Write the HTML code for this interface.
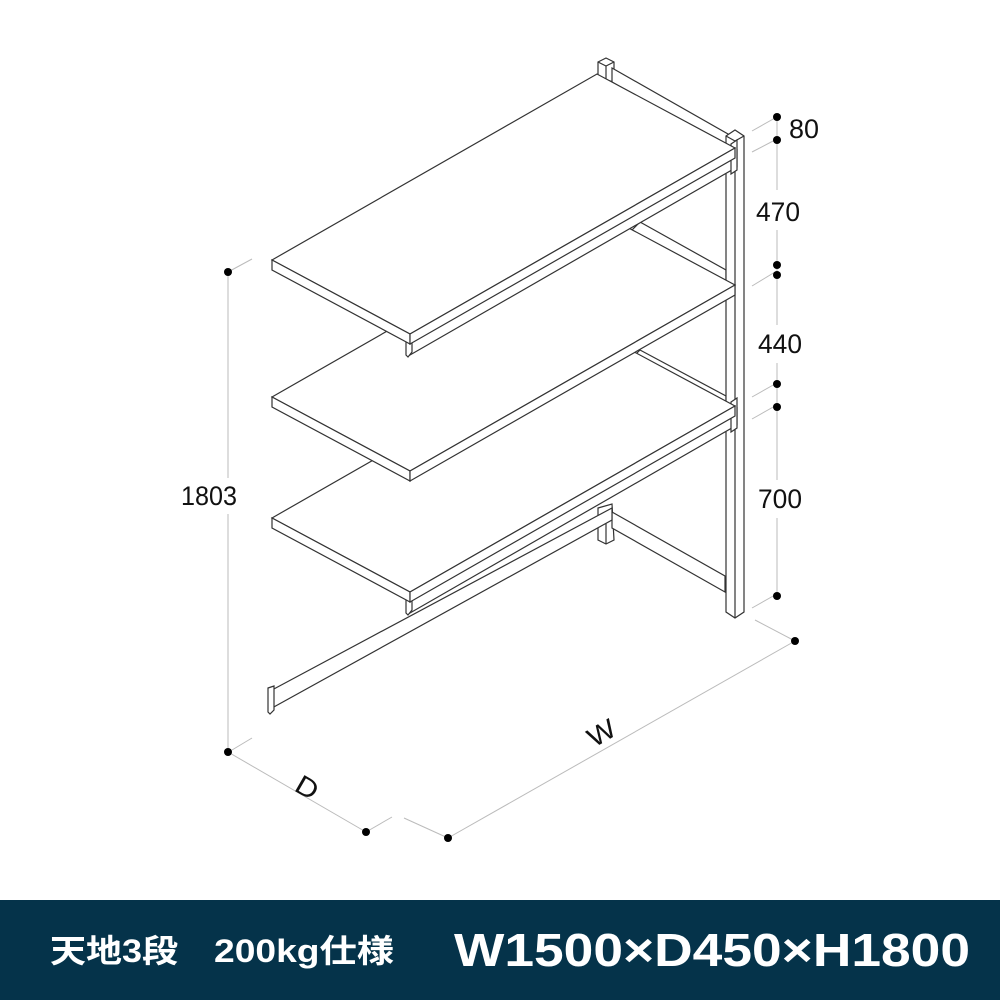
<!DOCTYPE html>
<html><head><meta charset="utf-8"><style>
html,body{margin:0;padding:0;background:#fff;}
svg{display:block}
</style></head><body>
<svg width="1000" height="1000" viewBox="0 0 1000 1000" xmlns="http://www.w3.org/2000/svg">
<defs>
<g id="shelf">
  <polygon points="272,260 597,74 735,148 410,334" fill="#fff" stroke="#333" stroke-width="1.2"/>
  <polygon points="272,260 410,334 410,344 272,270" fill="#fff" stroke="#333" stroke-width="1.2"/>
  <polygon points="410,334 735,148 735,158 410,344" fill="#fff" stroke="#333" stroke-width="1.2"/>
</g>
<g id="beam">
  <polygon points="410,335 737,150 737,167 410,355" fill="#fff" stroke="#333" stroke-width="1.2"/>
  <polygon points="406,330 412,326 412,352 408,357 406,355" fill="#fff" stroke="#333" stroke-width="1.2"/>
  <polygon points="731,144 737,140 737,170 731,174" fill="#fff" stroke="#333" stroke-width="1.2"/>
</g>
</defs>
<g fill="none" stroke="#333" stroke-width="1.2">
  <polygon points="598,62 606,58 614,62 614,82 598,78" fill="#fff"/>
  <line x1="598" y1="62" x2="606" y2="66"/><line x1="606" y1="66" x2="614" y2="62"/>
  <line x1="606" y1="66" x2="606" y2="80"/>
  <polygon points="612,68 728,134 728,148 612,82" fill="#fff"/>
  <polygon points="640,222 726,270 726,282 632,230" fill="#fff"/>
  <polygon points="640,350 726,396 726,408 632,358" fill="#fff"/>
  <polygon points="598,508 612,504 614,540 606,544 598,540" fill="#fff"/>
  <line x1="606" y1="512" x2="606" y2="544"/>
  <polygon points="612,512 725,576 725,592 612,528" fill="#fff"/>
  <polygon points="272,690 612,508 612,520 272,708" fill="#fff"/>
  <polygon points="268,688 274,686 274,710 270,714 268,712" fill="#fff"/>
  <polygon points="726,136 735,130 744,136 744,612 735,618 726,612" fill="#fff"/>
  <line x1="726" y1="136" x2="735" y2="141"/><line x1="735" y1="141" x2="744" y2="136"/>
  <line x1="735" y1="141" x2="735" y2="618"/>
</g>
<use href="#beam" transform="translate(0,258)"/>
<use href="#shelf" transform="translate(0,258)"/>
<use href="#shelf" transform="translate(0,137)"/>
<use href="#beam"/>
<use href="#shelf"/>
<g stroke="#bbb" stroke-width="1" fill="none">
  <line x1="228" y1="272" x2="228" y2="752"/>
  <line x1="228" y1="272" x2="252" y2="259"/>
  <line x1="228" y1="752" x2="366" y2="832"/>
  <line x1="232" y1="750" x2="252" y2="738"/>
  <line x1="366" y1="832" x2="392" y2="817"/>
  <line x1="404" y1="818" x2="448" y2="838"/>
  <line x1="448" y1="838" x2="795" y2="641"/>
  <line x1="755" y1="620" x2="795" y2="641"/>
  <line x1="777" y1="117" x2="777" y2="596"/>
  <line x1="752" y1="131" x2="775" y2="118"/>
  <line x1="752" y1="152" x2="775" y2="140"/>
  <line x1="752" y1="286" x2="775" y2="272"/>
  <line x1="752" y1="397" x2="775" y2="384"/>
  <line x1="752" y1="419" x2="775" y2="406"/>
  <line x1="752" y1="608" x2="775" y2="595"/>
</g>
<g fill="#fff" stroke="none">
  <rect x="754" y="190" width="46" height="40"/>
  <rect x="754" y="325" width="50" height="38"/>
  <rect x="754" y="480" width="50" height="38"/>
  <rect x="180" y="478" width="60" height="36"/>
</g>
<g fill="#000">
  <circle cx="228" cy="272" r="4"/><circle cx="228" cy="752" r="4"/>
  <circle cx="366" cy="832" r="4"/><circle cx="448" cy="838" r="4"/>
  <circle cx="795" cy="641" r="4"/>
  <circle cx="777" cy="117" r="4"/><circle cx="777" cy="140" r="4"/>
  <circle cx="777" cy="265" r="4"/><circle cx="777" cy="275" r="4"/>
  <circle cx="777" cy="384" r="4"/><circle cx="777" cy="407" r="4"/>
  <circle cx="777" cy="596" r="4"/>
</g>
<g font-family="Liberation Sans, sans-serif" font-size="27" fill="#111">
  <text x="789" y="138" textLength="30" lengthAdjust="spacingAndGlyphs">80</text>
  <text x="756" y="221" textLength="44" lengthAdjust="spacingAndGlyphs">470</text>
  <text x="758" y="353" textLength="44" lengthAdjust="spacingAndGlyphs">440</text>
  <text x="758" y="508" textLength="44" lengthAdjust="spacingAndGlyphs">700</text>
  <text x="181" y="505" textLength="56" lengthAdjust="spacingAndGlyphs">1803</text>
  <text x="0" y="0" transform="translate(293,790) rotate(30)" textLength="22" lengthAdjust="spacingAndGlyphs">D</text>
  <text x="0" y="0" transform="translate(594,748) rotate(-30)" textLength="28" lengthAdjust="spacingAndGlyphs">W</text>
</g>
<rect x="0" y="900" width="1000" height="100" fill="#05334a"/>
<g font-family="Liberation Sans, 'Noto Sans CJK JP', sans-serif" font-weight="bold" fill="#fff">
  <text x="50" y="962" font-size="32" textLength="128" lengthAdjust="spacingAndGlyphs">天地3段</text>
  <text x="214" y="962" font-size="32" textLength="180" lengthAdjust="spacingAndGlyphs">200kg仕様</text>
  <text x="454" y="966" font-size="46" textLength="516" lengthAdjust="spacingAndGlyphs">W1500×D450×H1800</text>
</g>
</svg>
</body></html>
